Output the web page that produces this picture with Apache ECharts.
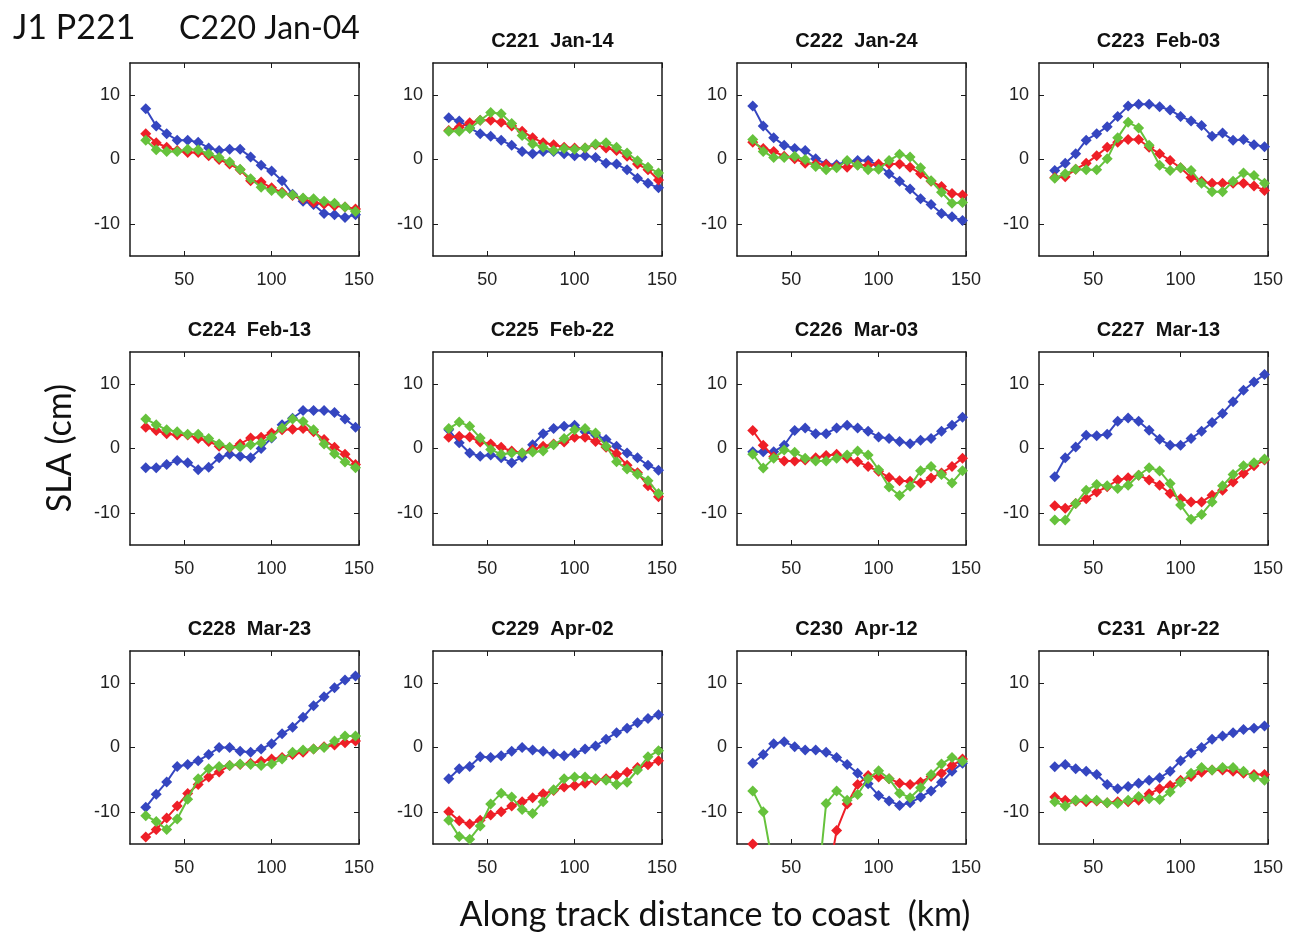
<!DOCTYPE html>
<html>
<head>
<meta charset="utf-8">
<title>J1 P221 SLA</title>
<script src="https://cdn.jsdelivr.net/npm/echarts@6/dist/echarts.min.js"></script>
<style>
    html,body{margin:0;padding:0;background:#fff;}
    #sla-chart{width:1295px;height:937px;}
</style>
</head>
<body>
<div id="sla-chart"></div>
<script>
var distance=[28,34,40,46,52,58,64,70,76,82,88,94,100,106,112,118,124,130,136,142,148];
var cycleTitles=['C220 Jan-04','C221  Jan-14','C222  Jan-24','C223  Feb-03','C224  Feb-13','C225  Feb-22',
    'C226  Mar-03','C227  Mar-13','C228  Mar-23','C229  Apr-02','C230  Apr-12','C231  Apr-22'];
var xTicks=[50,100,150];
var yTicks=[-10,0,10];

var c220Blue=[7.9,5.2,4.0,3.0,3.0,2.7,1.8,1.4,1.6,1.6,0.4,-0.9,-1.8,-3.3,-5.4,-6.5,-7.0,-8.4,-8.6,-9.0,-8.6];
var c220Red=[4.0,2.6,1.9,1.4,1.1,1.1,0.6,0.0,-0.7,-1.6,-3.3,-3.5,-4.4,-5.1,-5.6,-6.1,-6.7,-6.9,-7.2,-7.4,-7.7];
var c220Green=[3.0,1.5,1.25,1.25,1.6,1.5,0.9,0.3,-0.4,-1.5,-3.0,-4.3,-4.8,-5.3,-5.5,-6.0,-6.1,-6.5,-6.8,-7.4,-8.1];

var c221Blue=[6.5,6.0,4.9,4.0,3.6,3.0,2.2,1.25,0.9,1.25,1.25,0.9,0.6,0.6,0.3,-0.6,-0.7,-1.6,-2.9,-3.7,-4.4];
var c221Red=[4.5,5.0,5.7,6.1,6.1,5.8,5.2,4.4,3.4,2.6,2.3,1.9,1.8,1.8,2.3,1.8,1.4,0.5,-0.7,-1.6,-3.2];
var c221Green=[4.4,4.4,4.8,6.1,7.3,7.1,5.6,3.75,2.4,1.9,1.4,1.7,1.6,1.8,2.4,2.6,1.9,1.0,-0.2,-1.2,-2.1];

var c222Blue=[8.3,5.2,3.4,2.2,1.7,1.4,0.1,-0.7,-0.8,-0.3,-0.15,-0.15,-0.9,-2.2,-3.4,-4.6,-6.1,-7.0,-8.4,-8.9,-9.5];
var c222Red=[2.7,1.7,1.25,0.5,0.1,-0.6,-0.7,-0.8,-1.1,-1.2,-0.8,-0.9,-0.7,-0.7,-0.7,-1.2,-2.2,-3.4,-4.2,-5.3,-5.5];
var c222Green=[3.1,1.25,0.3,0.3,0.5,0.0,-1.1,-1.6,-1.3,-0.15,-0.9,-1.6,-1.5,-0.15,0.8,0.4,-1.3,-3.3,-5.1,-6.8,-6.7];

var c223Blue=[-1.7,-0.6,0.9,3.0,4.0,5.1,6.7,8.3,8.6,8.6,8.2,7.7,6.7,6.0,5.3,3.6,4.1,3.0,3.1,2.3,2.0];
var c223Red=[-2.8,-2.7,-1.5,-0.6,0.6,1.9,2.7,3.1,3.1,1.9,0.9,-0.15,-1.3,-2.8,-3.4,-3.7,-3.7,-3.7,-3.7,-4.1,-4.8];
var c223Green=[-2.9,-2.2,-1.5,-1.6,-1.6,0.1,3.4,5.8,4.9,2.2,-0.9,-1.7,-1.3,-1.7,-3.7,-5.0,-5.0,-3.4,-2.1,-2.5,-3.7];

var c224Blue=[-3.0,-3.0,-2.5,-1.85,-2.2,-3.3,-2.9,-1.45,-0.9,-1.2,-1.45,0.0,1.65,3.7,4.7,5.9,5.9,5.9,5.6,4.6,3.3];
var c224Red=[3.3,2.8,2.3,2.1,2.1,1.55,1.1,0.35,0.1,0.7,1.65,1.75,2.4,2.9,3.0,3.1,2.6,1.4,0.2,-0.9,-2.5];
var c224Green=[4.6,3.7,2.9,2.6,2.2,2.2,1.55,0.7,0.2,0.2,0.6,0.9,1.75,3.2,4.6,4.2,2.9,0.7,-0.8,-2.1,-3.0];

var c225Blue=[2.9,0.9,-0.7,-1.2,-1.0,-1.45,-2.2,-1.35,0.6,2.3,3.1,3.45,3.6,2.6,2.1,1.4,0.35,-0.7,-1.45,-2.6,-3.4];
var c225Red=[1.75,1.9,1.8,1.0,0.7,0.2,-0.4,-0.7,-0.15,0.35,0.7,1.0,1.75,1.75,1.1,0.2,-0.8,-2.6,-3.75,-5.8,-7.5];
var c225Green=[3.1,4.1,3.45,1.65,-0.15,-0.9,-0.7,-0.7,-0.55,-0.4,0.6,1.55,2.9,3.1,2.4,0.35,-2.05,-3.2,-4.0,-5.0,-7.0];

var c226Blue=[-0.5,-0.5,-0.5,0.5,2.8,3.2,2.3,2.3,3.2,3.6,3.2,2.7,1.8,1.55,1.1,0.75,1.3,1.55,2.7,3.6,4.85];
var c226Red=[2.8,0.5,-1.3,-1.95,-1.95,-1.8,-1.45,-1.1,-0.9,-1.5,-2.05,-2.8,-3.55,-4.5,-5.0,-5.1,-5.35,-4.6,-3.8,-2.8,-1.5];
var c226Green=[-0.9,-3.05,-1.5,-0.25,-0.6,-1.5,-1.95,-1.95,-1.5,-1.0,-0.4,-1.0,-3.3,-6.0,-7.3,-5.85,-3.45,-2.8,-4.05,-5.35,-3.45];

var c227Blue=[-4.4,-1.45,0.25,2.05,2.0,2.2,4.25,4.75,4.25,2.85,1.45,0.5,0.5,1.55,2.7,4.05,5.45,7.25,9.05,10.35,11.5];
var c227Red=[-8.9,-9.3,-8.55,-7.8,-6.75,-5.95,-4.9,-4.55,-4.15,-4.9,-5.7,-7.0,-7.8,-8.3,-8.3,-7.25,-6.5,-5.2,-3.9,-2.7,-1.8];
var c227Green=[-11.1,-11.1,-8.55,-6.5,-5.6,-5.8,-6.2,-5.7,-4.15,-3.0,-3.5,-5.45,-8.8,-11.0,-10.25,-8.3,-5.8,-4.05,-2.7,-2.2,-1.65];

var c228Blue=[-9.3,-7.25,-5.35,-2.95,-2.65,-2.05,-1.1,0.0,0.0,-0.6,-0.75,-0.25,0.6,2.15,3.15,4.7,6.5,7.9,9.3,10.5,11.1];
var c228Red=[-13.9,-12.75,-10.95,-9.1,-7.15,-5.75,-4.6,-3.8,-2.8,-2.65,-2.45,-2.15,-1.8,-1.55,-1.1,-0.75,-0.25,0.1,0.4,0.75,1.0];
var c228Green=[-10.6,-11.5,-12.75,-11.1,-8.05,-4.85,-3.3,-2.95,-2.8,-2.55,-2.65,-2.8,-2.55,-1.8,-0.75,-0.4,-0.25,0.0,1.0,1.8,1.8];

var c229Blue=[-4.85,-3.3,-2.95,-1.45,-1.55,-1.3,-0.6,0.0,-0.4,-0.6,-1.0,-1.3,-0.9,-0.25,0.25,1.3,2.3,3.0,3.85,4.5,5.1];
var c229Red=[-10.0,-11.4,-11.9,-11.3,-10.5,-10.0,-9.1,-8.45,-7.8,-7.2,-6.7,-6.15,-5.9,-5.55,-5.1,-4.85,-4.35,-3.85,-3.1,-2.7,-2.05];
var c229Green=[-11.3,-13.85,-14.25,-12.2,-8.8,-7.1,-7.7,-9.65,-10.25,-8.45,-6.55,-4.85,-4.6,-4.6,-4.85,-5.1,-5.75,-5.4,-3.5,-1.45,-0.5];

// C230: red and green drop far below the -15 limit near the coast
var c230Blue=[-2.45,-1.1,0.6,0.9,0.1,-0.4,-0.4,-0.75,-1.55,-2.65,-4.0,-5.65,-7.45,-8.3,-9.0,-8.6,-7.7,-6.75,-5.4,-3.7,-2.45];
var c230Red=[-15,-30,-38,-42,-42,-40,-35,-22,-12.9,-8.8,-5.75,-4.35,-4.6,-4.85,-5.55,-5.75,-5.4,-4.5,-4.0,-2.8,-1.8];
var c230Green=[-6.75,-10.0,-19,-30,-36,-38,-25,-8.7,-6.75,-8.2,-7.3,-4.85,-3.6,-4.85,-7.1,-7.8,-6.25,-4.2,-2.55,-1.55,-2.15];

var c231Blue=[-3.0,-2.65,-3.3,-3.7,-4.2,-5.75,-6.4,-6.05,-5.55,-5.1,-4.7,-3.7,-2.05,-0.9,0.0,1.3,1.8,2.3,2.8,3.0,3.35];
var c231Red=[-7.7,-8.2,-8.3,-8.45,-8.3,-8.6,-8.45,-8.45,-8.2,-7.2,-6.4,-5.9,-5.1,-4.5,-3.85,-3.5,-3.5,-3.7,-4.0,-4.2,-4.2];
var c231Green=[-8.45,-9.1,-8.2,-8.1,-8.2,-8.6,-8.7,-8.2,-7.6,-7.95,-8.1,-6.9,-5.4,-4.0,-3.1,-3.5,-3.1,-3.1,-3.7,-4.6,-5.1];

var panelBlue=[c220Blue,c221Blue,c222Blue,c223Blue,c224Blue,c225Blue,c226Blue,c227Blue,c228Blue,c229Blue,c230Blue,c231Blue];
var panelRed=[c220Red,c221Red,c222Red,c223Red,c224Red,c225Red,c226Red,c227Red,c228Red,c229Red,c230Red,c231Red];
var panelGreen=[c220Green,c221Green,c222Green,c223Green,c224Green,c225Green,c226Green,c227Green,c228Green,c229Green,c230Green,c231Green];

var colLeft=[130,433,737,1039];
var rowTop=[63,352,651];
var boxW=229, boxH=193;
var lineColors=['#3546c0','#ee1f27','#66c23c'];
var tickFont='"Liberation Sans", Arial, sans-serif';
var labelFont='Lato, "Open Sans", sans-serif';

function pairs(vals){
    var out=[];
    for(var k=0;k<distance.length;k++){
        out.push([distance[k],vals[k]]);
    }
    return out;
}

var grids=[], xAxes=[], yAxes=[], series=[], titles=[];
for(var i=0;i<12;i++){
    var r=Math.floor(i/4), c=i%4;
    grids.push({left:colLeft[c],top:rowTop[r],width:boxW,height:boxH,containLabel:false});

    var frame={show:true,onZero:false,lineStyle:{color:'#1a1a1a',width:1.5}};
    xAxes.push({
        gridIndex:i,type:'value',min:19,max:150,position:'bottom',
        axisLine:frame,
        axisTick:{inside:true,length:5,customValues:xTicks,lineStyle:{color:'#1a1a1a'}},
        axisLabel:{customValues:xTicks,margin:15,fontSize:18,color:'#222',fontFamily:tickFont},
        splitLine:{show:false}
    });
    xAxes.push({
        gridIndex:i,type:'value',min:19,max:150,position:'top',
        axisLine:frame,
        axisTick:{inside:true,length:5,customValues:xTicks,lineStyle:{color:'#1a1a1a'}},
        axisLabel:{show:false},
        splitLine:{show:false}
    });
    yAxes.push({
        gridIndex:i,type:'value',min:-15,max:15,position:'left',
        axisLine:frame,
        axisTick:{inside:true,length:5,customValues:yTicks,lineStyle:{color:'#1a1a1a'}},
        axisLabel:{customValues:yTicks,margin:10,fontSize:18,color:'#222',fontFamily:tickFont},
        splitLine:{show:false}
    });
    yAxes.push({
        gridIndex:i,type:'value',min:-15,max:15,position:'right',
        axisLine:frame,
        axisTick:{inside:true,length:5,customValues:yTicks,lineStyle:{color:'#1a1a1a'}},
        axisLabel:{show:false},
        splitLine:{show:false}
    });

    var sets=[panelBlue[i],panelRed[i],panelGreen[i]];
    for(var s=0;s<3;s++){
        series.push({
            type:'line',
            xAxisIndex:2*i,yAxisIndex:2*i,
            data:pairs(sets[s]),
            symbol:'diamond',symbolSize:11,
            clip:true,
            lineStyle:{color:lineColors[s],width:2},
            itemStyle:{color:lineColors[s]},
            z:2+s
        });
    }

    if(i>0){
        titles.push({
            text:cycleTitles[i],
            left:colLeft[c]+boxW/2,top:rowTop[r]-37,textAlign:'center',
            textStyle:{fontSize:20,fontWeight:'bold',color:'#111',fontFamily:tickFont}
        });
    }
}

titles.push({text:'J1 P221',left:8,top:6,textStyle:{fontSize:34,fontWeight:'normal',color:'#111',fontFamily:labelFont}});
titles.push({text:cycleTitles[0],left:174,top:8,textStyle:{fontSize:32,fontWeight:'normal',color:'#111',fontFamily:labelFont}});

var slaChart=echarts.init(document.getElementById('sla-chart'));
slaChart.setOption({
    animation:false,
    backgroundColor:'#fff',
    title:titles,
    grid:grids,
    xAxis:xAxes,
    yAxis:yAxes,
    series:series,
    graphic:[
        {type:'text',x:60,y:448,rotation:Math.PI/2,
            style:{text:'SLA (cm)',fontSize:34,fill:'#111',fontFamily:labelFont,align:'center',verticalAlign:'middle'}},
        {type:'text',x:715,y:915,
            style:{text:'Along track distance to coast  (km)',fontSize:34,fill:'#111',fontFamily:labelFont,align:'center',verticalAlign:'middle'}}
    ]
});
</script>
</body>
</html>
